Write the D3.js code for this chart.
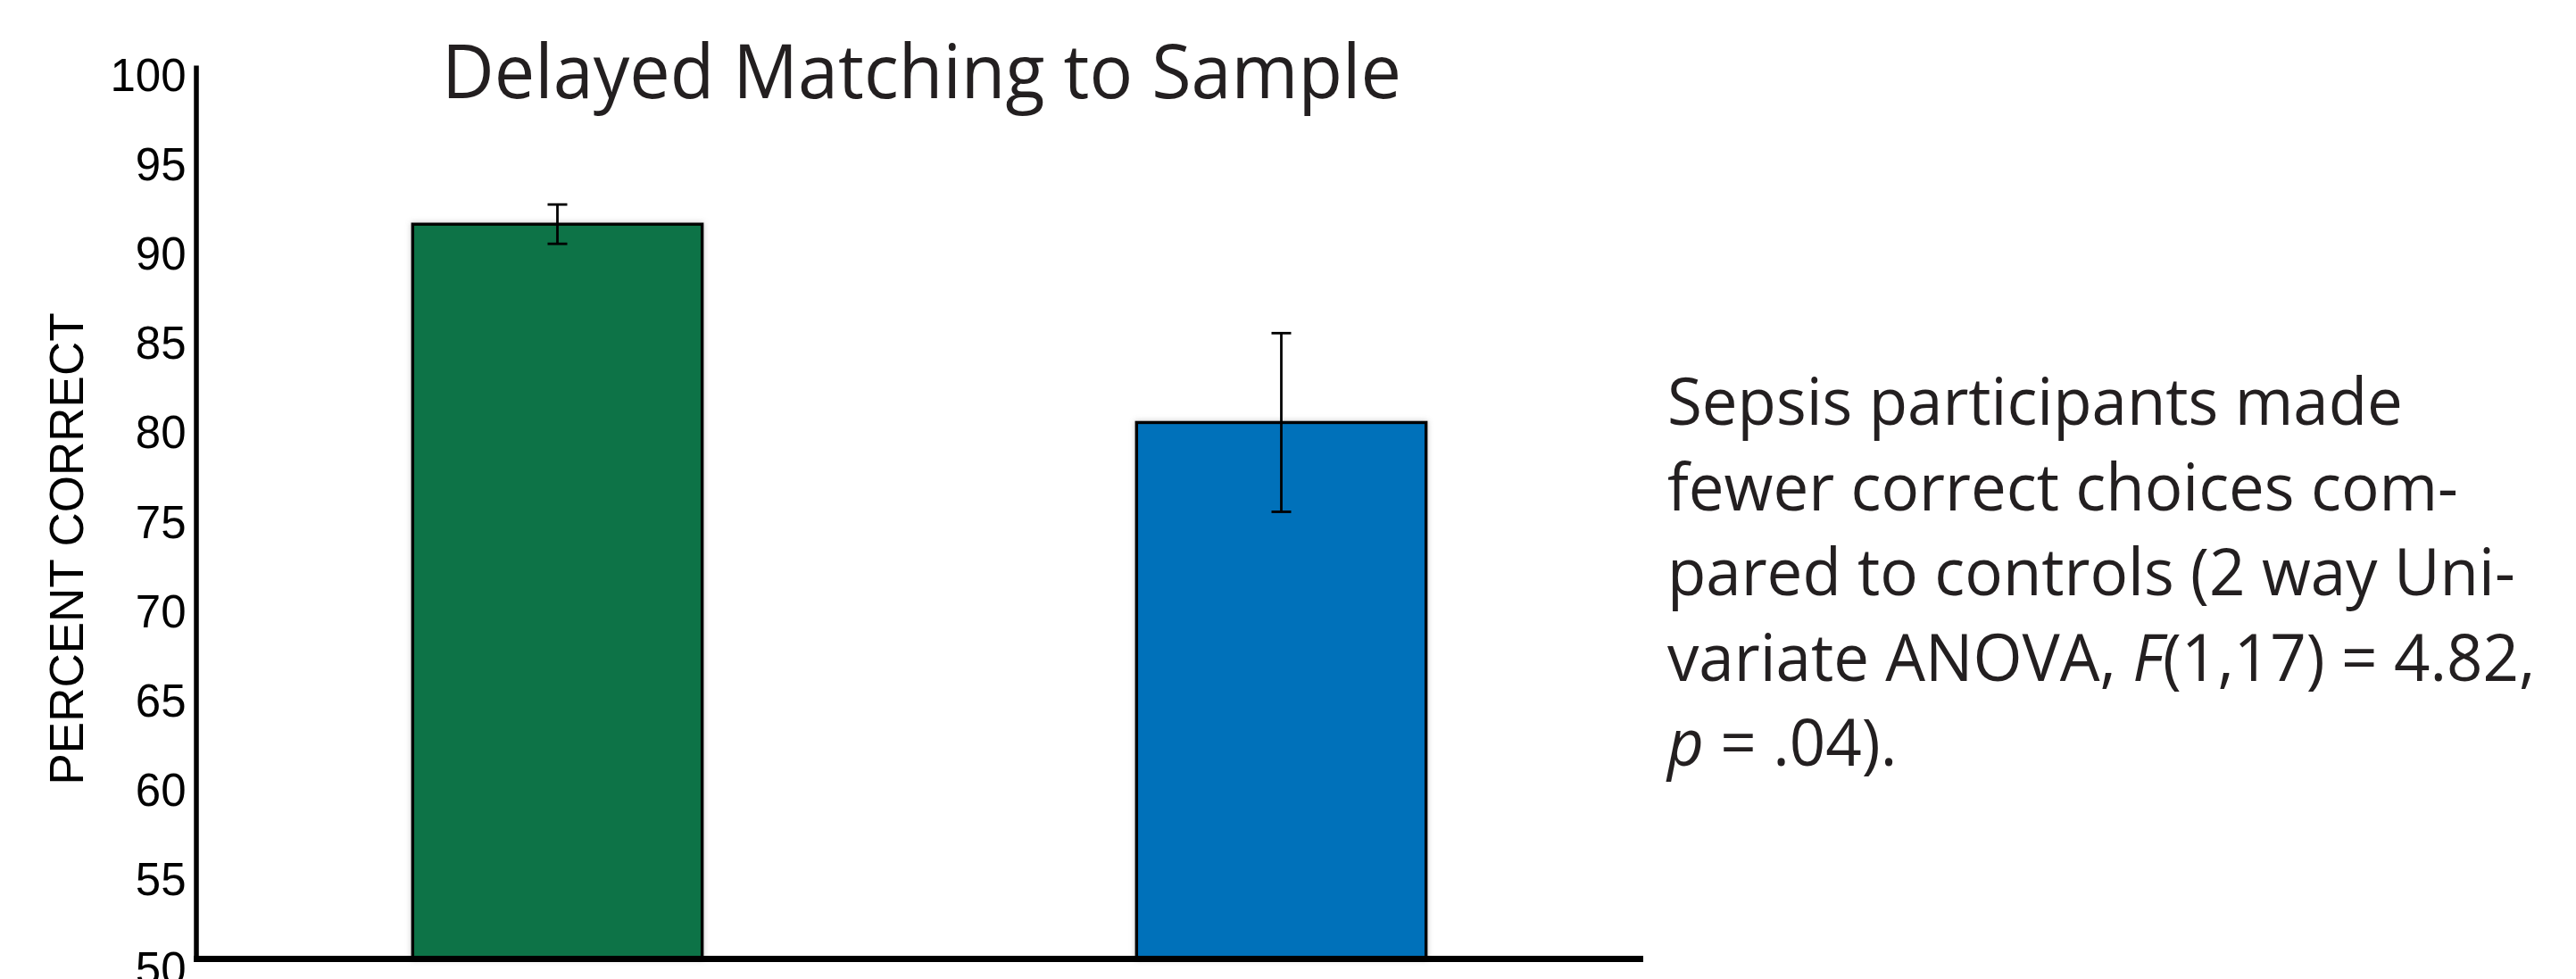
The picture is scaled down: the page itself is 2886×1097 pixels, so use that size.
<!DOCTYPE html>
<html>
<head>
<meta charset="utf-8">
<script src="https://cdn.jsdelivr.net/npm/d3@7"></script>
<style>
  html, body { margin: 0; padding: 0; background: #fff; }
  svg { display: block; }
</style>
</head>
<body>
<div id="chart"></div>
<script>
// data
const groups = ["Control", "Sepsis"];
const meanCorrect = [91.1, 80.0];
const semCorrect = [1.1, 5.0];
const barColors = ["#117347", "#0071ba"];
const yTickValues = [50, 55, 60, 65, 70, 75, 80, 85, 90, 95, 100];
const titleText = "Delayed Matching to Sample";
const yLabelText = "PERCENT CORRECT";
const noteLines = [
  [{t: "Sepsis participants made"}],
  [{t: "fewer correct choices com-"}],
  [{t: "pared to controls (2 way Uni-"}],
  [{t: "variate ANOVA, "}, {t: "F", i: true}, {t: "(1,17) = 4.82,"}],
  [{t: "p", i: true}, {t: " = .04)."}]
];

const width = 2886, height = 1097;
const textColor = "#231f20";

const svg = d3.select("#chart").append("svg")
  .attr("width", width)
  .attr("height", height);

const defs = svg.append("defs");
const shadow = defs.append("filter").attr("id", "barShadow")
  .attr("x", "-10%").attr("y", "-10%").attr("width", "120%").attr("height", "120%");
shadow.append("feDropShadow")
  .attr("dx", 0).attr("dy", 0)
  .attr("stdDeviation", 3)
  .attr("flood-color", "#888")
  .attr("flood-opacity", 0.45);

const y = d3.scaleLinear().domain([50, 100]).range([1074, 73]);
const x = d3.scaleBand().domain(groups).range([219, 1841])
  .paddingInner(0.6).paddingOuter(0.3);

// bars
svg.append("g").selectAll("rect")
  .data(groups)
  .enter().append("rect")
  .attr("x", d => x(d))
  .attr("y", (d, i) => y(meanCorrect[i]))
  .attr("width", x.bandwidth())
  .attr("height", (d, i) => y(50) - y(meanCorrect[i]))
  .attr("fill", (d, i) => barColors[i])
  .attr("stroke", "#000")
  .attr("stroke-width", 3.5)
  .attr("filter", "url(#barShadow)");

// error bars
const capW = 22;
const err = svg.append("g").attr("stroke", "#000").attr("stroke-width", 2.8);
groups.forEach((g, i) => {
  const cx = x(g) + x.bandwidth() / 2;
  const lo = y(meanCorrect[i] - semCorrect[i]);
  const hi = y(meanCorrect[i] + semCorrect[i]);
  err.append("line").attr("x1", cx).attr("x2", cx).attr("y1", lo).attr("y2", hi);
  err.append("line").attr("x1", cx - capW / 2).attr("x2", cx + capW / 2).attr("y1", lo).attr("y2", lo);
  err.append("line").attr("x1", cx - capW / 2).attr("x2", cx + capW / 2).attr("y1", hi).attr("y2", hi);
});

// y axis
const yAxis = svg.append("g")
  .attr("transform", "translate(219.5,0)")
  .call(d3.axisLeft(y).tickValues(yTickValues).tickSize(0).tickSizeOuter(0).tickPadding(11));
yAxis.select(".domain").attr("stroke", "#000").attr("stroke-width", 5.5);
yAxis.selectAll("text")
  .attr("dy", "0.56em")
  .style("font-family", "'Liberation Sans', Arial, sans-serif")
  .style("font-size", "51px")
  .attr("fill", "#000");

// x axis (line only)
const xAxis = svg.append("g")
  .attr("transform", "translate(0,1074.5)")
  .call(d3.axisBottom(x).tickSize(0).tickSizeOuter(0).tickFormat(""));
xAxis.select(".domain").attr("stroke", "#000").attr("stroke-width", 7)
  .attr("d", "M217," + 0 + "H1841");

// y label
svg.append("text")
  .attr("transform", "translate(93,615) rotate(-90)")
  .attr("text-anchor", "middle")
  .style("font-family", "'Liberation Sans', Arial, sans-serif")
  .style("font-size", "53px")
  .attr("fill", "#000")
  .text(yLabelText);

// title
const title = svg.append("text")
  .attr("x", 0).attr("y", 0)
  .style("font-family", "'Open Sans', sans-serif")
  .style("font-size", "84px")
  .attr("fill", textColor)
  .text(titleText);
const tw = title.node().getComputedTextLength();
title.attr("transform", "translate(495,110) scale(" + (1075 / tw) + ",1)");

// annotation
const noteX = 1868, noteY0 = 476, noteStep = 95.5;
const note = svg.append("g");
const noteTexts = noteLines.map((parts, li) => {
  const t = note.append("text")
    .style("font-family", "'Open Sans', sans-serif")
    .style("font-size", "73px")
    .attr("fill", textColor);
  parts.forEach(p => {
    t.append("tspan").text(p.t).style("font-style", p.i ? "italic" : "normal");
  });
  return t;
});
const sx = 824 / noteTexts[0].node().getComputedTextLength();
noteTexts.forEach((t, li) => {
  t.attr("transform", "translate(" + noteX + "," + (noteY0 + li * noteStep) + ") scale(" + sx + ",1)");
});
</script>
</body>
</html>
